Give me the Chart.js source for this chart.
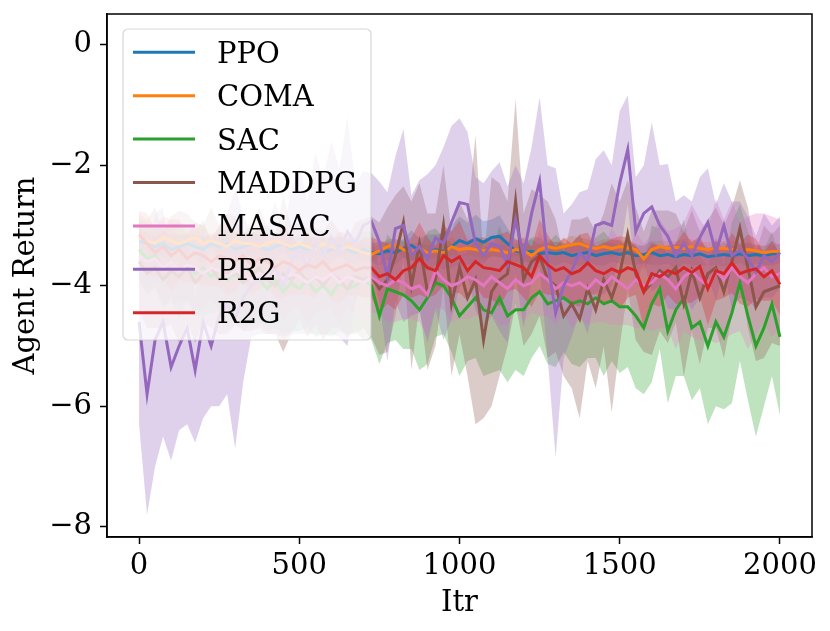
<!DOCTYPE html>
<html>
<head>
<meta charset="utf-8">
<script src="https://cdn.jsdelivr.net/npm/chart.js@4.4.1/dist/chart.umd.min.js"></script>
<style>
  html, body { margin: 0; padding: 0; background: #fff; }
  #wrap { width: 830px; height: 631px; }
</style>
</head>
<body>
<div id="wrap"><canvas id="chart"></canvas></div>
<script>
// mean return per series, one value every 25 iterations (0..2000), rows of 200 its
const ppo = [
  -3.25,-3.3,-3.35,-3.3,-3.4,-3.35,-3.3,-3.35,
  -3.4,-3.3,-3.35,-3.3,-3.4,-3.35,-3.3,-3.35,
  -3.4,-3.35,-3.3,-3.4,-3.35,-3.4,-3.35,-3.45,
  -3.4,-3.35,-3.4,-3.45,-3.4,-3.45,-3.47,-3.42,
  -3.45,-3.38,-3.33,-3.42,-3.45,-3.4,-3.43,-3.35,
  -3.25,-3.3,-3.22,-3.28,-3.2,-3.18,-3.3,-3.42,
  -3.45,-3.43,-3.47,-3.45,-3.47,-3.45,-3.5,-3.47,
  -3.45,-3.5,-3.47,-3.45,-3.48,-3.45,-3.5,-3.48,
  -3.45,-3.5,-3.48,-3.52,-3.48,-3.5,-3.47,-3.52,
  -3.5,-3.48,-3.5,-3.47,-3.5,-3.48,-3.5,-3.47,
  -3.47
];
const coma = [
  -3.2,-3.25,-3.3,-3.2,-3.25,-3.3,-3.25,-3.2,
  -3.3,-3.25,-3.3,-3.35,-3.25,-3.3,-3.3,-3.35,
  -3.3,-3.25,-3.3,-3.35,-3.3,-3.35,-3.4,-3.3,
  -3.35,-3.4,-3.35,-3.4,-3.45,-3.48,-3.42,-3.35,
  -3.32,-3.4,-3.45,-3.38,-3.45,-3.42,-3.45,-3.35,
  -3.4,-3.38,-3.4,-3.42,-3.4,-3.42,-3.45,-3.4,
  -3.42,-3.5,-3.4,-3.35,-3.38,-3.35,-3.32,-3.3,
  -3.35,-3.38,-3.35,-3.38,-3.35,-3.37,-3.4,-3.55,
  -3.4,-3.35,-3.38,-3.36,-3.38,-3.35,-3.38,-3.4,
  -3.37,-3.38,-3.4,-3.42,-3.4,-3.42,-3.45,-3.43,
  -3.43
];
const sac = [
  -3.4,-3.55,-3.5,-3.7,-3.6,-3.75,-3.65,-3.8,
  -3.7,-3.85,-3.75,-3.9,-3.8,-3.95,-3.85,-3.9,
  -4.05,-3.9,-4.1,-3.95,-4.05,-3.9,-4.1,-4.0,
  -4.15,-3.95,-4.05,-4.0,-3.9,-4.0,-4.5,-4.05,
  -4.1,-4.15,-4.25,-4.4,-4.2,-3.95,-4.0,-4.2,
  -4.5,-4.35,-4.2,-4.4,-4.45,-4.2,-4.5,-4.4,
  -4.4,-4.2,-4.1,-4.3,-4.25,-4.2,-4.3,-4.25,
  -4.3,-4.2,-4.3,-4.25,-4.35,-4.35,-4.5,-4.7,
  -4.3,-4.05,-4.75,-4.4,-4.2,-4.7,-4.6,-5.0,
  -4.6,-4.85,-4.45,-3.95,-4.5,-5.0,-4.7,-4.3,
  -4.85
];
const maddpg = [
  -3.6,-3.8,-3.7,-3.9,-3.75,-3.85,-3.7,-3.95,
  -3.8,-3.7,-3.9,-3.8,-3.75,-3.95,-3.85,-3.7,
  -3.9,-4.0,-3.8,-3.9,-3.75,-3.95,-3.85,-4.0,
  -3.8,-3.9,-4.05,-3.85,-3.9,-3.85,-4.05,-3.9,
  -3.5,-2.95,-4.0,-3.3,-4.1,-3.9,-3.0,-4.3,
  -3.7,-4.2,-3.9,-4.9,-4.1,-3.9,-3.8,-2.6,
  -3.9,-3.6,-3.5,-3.9,-4.0,-4.5,-4.3,-4.55,
  -4.05,-4.4,-3.9,-4.2,-3.8,-3.15,-3.8,-4.1,
  -3.95,-3.75,-3.85,-3.7,-4.3,-3.75,-4.2,-3.8,
  -3.7,-4.1,-3.6,-3.05,-3.7,-4.35,-4.1,-4.05,
  -4.0
];
const masac = [
  -3.5,-3.6,-3.55,-3.7,-3.6,-3.75,-3.65,-3.7,
  -3.8,-3.7,-3.75,-3.85,-3.75,-3.8,-3.9,-3.8,
  -3.85,-3.75,-3.9,-3.8,-3.85,-3.95,-3.85,-3.9,
  -3.8,-3.95,-3.85,-3.9,-3.95,-3.85,-3.95,-4.0,
  -3.9,-3.95,-4.05,-4.0,-4.15,-3.75,-3.9,-4.0,
  -3.95,-3.85,-3.9,-4.0,-3.85,-3.95,-4.05,-3.9,
  -4.0,-3.95,-3.8,-3.9,-4.05,-3.95,-4.0,-3.95,
  -4.05,-3.9,-4.0,-3.85,-3.95,-4.05,-3.9,-4.0,
  -3.95,-3.8,-3.9,-4.05,-3.85,-3.75,-3.9,-4.0,
  -3.75,-3.9,-3.7,-3.85,-3.95,-3.8,-3.7,-3.85,
  -3.8
];
const pr2 = [
  -4.6,-5.8,-4.9,-4.6,-5.35,-5.0,-4.7,-5.4,
  -4.6,-5.0,-4.5,-4.3,-4.55,-4.2,-4.0,-3.9,
  -3.9,-3.7,-4.0,-3.6,-3.4,-3.7,-3.3,-3.5,
  -3.2,-3.45,-3.1,-3.3,-3.0,-2.93,-3.27,-3.85,
  -3.05,-3.0,-3.5,-3.35,-3.55,-3.2,-3.3,-2.95,
  -2.62,-2.65,-3.3,-3.5,-3.3,-3.35,-3.65,-2.9,
  -3.5,-2.8,-2.27,-3.6,-4.45,-4.0,-3.75,-3.45,
  -3.6,-3.0,-2.95,-3.0,-2.3,-1.74,-3.1,-2.8,
  -2.69,-3.0,-3.18,-3.5,-3.3,-3.5,-3.2,-2.95,
  -3.45,-3.0,-3.5,-3.4,-3.55,-3.78,-3.5,-3.6,
  -3.45
];
const r2g = [
  -3.15,-3.3,-3.45,-3.35,-3.5,-3.4,-3.55,-3.45,
  -3.5,-3.6,-3.5,-3.55,-3.6,-3.5,-3.65,-3.55,
  -3.6,-3.7,-3.6,-3.65,-3.75,-3.65,-3.7,-3.6,
  -3.75,-3.7,-3.65,-3.75,-3.7,-3.7,-3.85,-3.8,
  -3.9,-3.75,-3.7,-3.55,-3.7,-3.75,-3.5,-3.6,
  -3.52,-3.75,-3.6,-3.7,-3.72,-3.75,-3.6,-3.65,
  -3.7,-3.85,-3.5,-3.65,-3.75,-3.7,-3.8,-3.75,
  -3.62,-3.75,-3.8,-3.72,-3.78,-3.7,-3.75,-4.1,
  -3.8,-3.85,-3.75,-3.8,-3.7,-3.78,-3.68,-4.05,
  -3.75,-3.8,-3.62,-3.8,-3.75,-3.72,-3.85,-3.75,
  -3.98
];

// half width of the shaded band around each mean
const ppoSd = [
  0.15,0.2,0.15,0.2,0.25,0.2,0.15,0.2,
  0.2,0.15,0.2,0.25,0.2,0.15,0.2,0.2,
  0.25,0.2,0.15,0.2,0.2,0.15,0.2,0.25,
  0.2,0.15,0.2,0.2,0.15,0.15,0.2,0.15,
  0.2,0.15,0.25,0.2,0.3,0.25,0.3,0.35,
  0.4,0.35,0.4,0.35,0.3,0.35,0.25,0.2,
  0.15,0.2,0.15,0.15,0.2,0.15,0.15,0.2,
  0.15,0.15,0.2,0.15,0.15,0.2,0.15,0.15,
  0.2,0.15,0.15,0.2,0.15,0.15,0.2,0.15,
  0.15,0.2,0.15,0.15,0.2,0.15,0.15,0.2,
  0.15
];
const comaSd = [
  0.12,0.15,0.1,0.12,0.15,0.1,0.12,0.15,
  0.1,0.12,0.15,0.1,0.12,0.1,0.15,0.12,
  0.1,0.12,0.15,0.1,0.12,0.15,0.1,0.12,
  0.15,0.1,0.12,0.1,0.15,0.12,0.1,0.12,
  0.1,0.12,0.15,0.1,0.12,0.1,0.12,0.15,
  0.1,0.12,0.1,0.15,0.12,0.1,0.12,0.1,
  0.12,0.15,0.1,0.12,0.1,0.12,0.15,0.1,
  0.12,0.1,0.12,0.15,0.1,0.12,0.1,0.2,
  0.12,0.1,0.12,0.1,0.15,0.12,0.1,0.12,
  0.1,0.12,0.15,0.1,0.12,0.1,0.12,0.1,
  0.12
];
const sacSd = [
  0.5,0.6,0.5,0.7,0.6,0.8,0.6,0.7,
  0.8,0.6,0.7,0.8,0.7,0.8,0.8,0.7,
  0.7,0.8,0.7,0.8,0.7,0.8,0.75,0.8,
  0.7,0.8,0.75,0.8,0.8,0.9,0.8,0.9,
  0.8,0.9,0.8,1.0,1.1,0.9,0.8,0.9,
  1.0,0.9,1.0,1.1,1.0,1.2,1.1,1.0,
  1.1,1.0,0.9,1.0,1.1,0.9,1.0,1.1,
  0.9,1.0,1.2,1.0,1.1,1.0,1.2,1.1,
  1.3,1.0,1.2,1.1,1.3,1.2,1.1,1.3,
  1.4,1.2,1.5,1.3,1.4,1.5,1.3,1.2,
  1.3
];
const maddpgSd = [
  0.8,0.9,1.0,0.8,0.9,1.1,0.9,1.0,
  0.8,1.0,0.9,1.0,0.9,0.8,0.9,1.0,
  0.9,0.8,1.3,0.9,0.8,0.9,0.8,0.9,
  0.9,0.8,0.8,0.9,1.0,1.0,1.1,1.2,
  1.0,0.6,1.4,1.0,1.3,1.1,1.0,1.2,
  1.1,1.3,2.4,1.3,1.9,1.6,1.2,1.7,
  1.1,1.2,1.0,1.3,1.1,1.0,1.4,1.65,
  1.2,1.3,1.1,1.9,1.2,0.9,1.1,1.0,
  1.2,1.0,1.1,0.9,1.2,1.0,1.1,0.9,
  1.0,1.1,0.9,0.8,1.0,0.9,1.1,0.9,
  1.0
];
const masacSd = [
  0.5,0.6,0.5,0.6,0.7,0.5,0.6,0.7,
  0.6,0.5,0.7,0.6,0.5,0.6,0.7,0.6,
  0.5,0.6,0.7,0.6,0.5,0.7,0.6,0.5,
  0.6,0.7,0.5,0.6,0.7,0.6,0.5,0.6,
  0.7,0.6,0.5,0.6,0.7,0.6,0.5,0.6,
  0.6,0.7,0.6,0.5,0.6,0.7,0.6,0.5,
  0.6,0.5,0.7,0.6,0.6,0.5,0.7,0.6,
  0.6,0.7,0.6,0.8,0.7,0.6,0.8,0.7,
  0.8,0.9,0.8,1.0,0.9,1.1,1.0,0.9,
  1.2,1.0,1.1,0.9,1.1,1.0,0.9,1.0,
  0.9
];
const pr2Sd = [
  1.7,2.0,2.1,1.9,1.55,1.4,1.6,1.2,
  1.6,1.0,1.5,1.5,2.15,1.4,0.85,0.9,
  0.9,1.1,0.85,1.2,1.4,1.1,1.5,1.3,
  1.6,1.4,1.9,1.0,0.9,0.8,1.0,1.4,
  1.2,1.6,1.0,1.1,1.4,1.2,1.6,1.6,
  1.4,1.2,1.1,1.2,1.2,1.4,1.3,0.9,
  1.2,1.1,1.4,1.6,2.4,1.2,1.1,1.0,
  1.2,1.1,1.2,1.0,1.2,0.9,0.9,0.8,
  1.4,1.0,1.2,0.9,0.8,0.9,1.0,0.9,
  0.8,0.7,0.9,0.8,0.7,0.6,0.7,0.6,
  0.6
];
const r2gSd = [
  0.4,0.5,0.4,0.5,0.6,0.5,0.4,0.5,
  0.5,0.4,0.5,0.6,0.5,0.4,0.5,0.5,
  0.4,0.5,0.6,0.5,0.4,0.5,0.5,0.4,
  0.5,0.6,0.5,0.4,0.5,0.5,0.6,0.5,
  0.5,0.4,0.5,0.6,0.5,0.4,0.5,0.5,
  0.6,0.5,0.4,0.5,0.5,0.6,0.5,0.4,
  0.5,0.5,0.6,0.5,0.4,0.5,0.5,0.6,
  0.5,0.4,0.5,0.5,0.6,0.5,0.4,0.6,
  0.5,0.5,0.4,0.5,0.6,0.5,0.5,0.6,
  0.5,0.4,0.5,0.5,0.6,0.5,0.4,0.5,
  0.5
];

const names = ['PPO', 'COMA', 'SAC', 'MADDPG', 'MASAC', 'PR2', 'R2G'];
const colors = ['#1f77b4', '#ff7f0e', '#2ca02c', '#8c564b', '#e377c2', '#9467bd', '#d62728'];
const means = [ppo, coma, sac, maddpg, masac, pr2, r2g];
const spreads = [ppoSd, comaSd, sacSd, maddpgSd, masacSd, pr2Sd, r2gSd];
const xTicks = [0, 500, 1000, 1500, 2000];
const yTicks = [-8, -6, -4, -2, 0];
const iters = ppo.map((_, i) => i * 25);

const FONT = 'DejaVu Serif';
const FSIZE = 29;

function alpha(hex, a) {
    const n = parseInt(hex.slice(1), 16);
    return `rgba(${n >> 16},${(n >> 8) & 255},${n & 255},${a})`;
}

const datasets = [];
means.forEach((m, k) => {
    // band: upper edge filled down to the lower edge
    datasets.push({
        data: m.map((v, i) => ({ x: iters[i], y: v + spreads[k][i] })),
        fill: '+1', backgroundColor: alpha(colors[k], 0.3),
        borderColor: 'rgba(0,0,0,0)', borderWidth: 0, pointRadius: 0,
        order: 100 - 2 * k, isBand: true
    });
    datasets.push({
        data: m.map((v, i) => ({ x: iters[i], y: v - spreads[k][i] })),
        fill: false, borderColor: 'rgba(0,0,0,0)', borderWidth: 0, pointRadius: 0,
        order: 99 - 2 * k, isBand: true
    });
});
means.forEach((m, k) => {
    datasets.push({
        label: names[k],
        data: m.map((v, i) => ({ x: iters[i], y: v })),
        borderColor: colors[k], borderWidth: 3, pointRadius: 0,
        fill: false, tension: 0, order: 20 - k
    });
});

// frame + matplotlib-like legend sitting inside the axes
const legendBox = {
    id: 'legendBox',
    afterDatasetsDraw(chart) {
        const ctx = chart.ctx;
        const a = chart.chartArea;
        ctx.save();
        ctx.strokeStyle = '#000';
        ctx.lineWidth = 1.5;
        ctx.strokeRect(a.left, a.top, a.right - a.left, a.bottom - a.top);

        const x0 = a.left + 16, y0 = a.top + 15, w = 248, h = 311, r = 5;
        ctx.beginPath();
        ctx.moveTo(x0 + r, y0);
        ctx.arcTo(x0 + w, y0, x0 + w, y0 + h, r);
        ctx.arcTo(x0 + w, y0 + h, x0, y0 + h, r);
        ctx.arcTo(x0, y0 + h, x0, y0, r);
        ctx.arcTo(x0, y0, x0 + w, y0, r);
        ctx.closePath();
        ctx.fillStyle = 'rgba(255,255,255,0.8)';
        ctx.fill();
        ctx.strokeStyle = 'rgba(204,204,204,0.8)';
        ctx.lineWidth = 1.2;
        ctx.stroke();

        const lines = chart.data.datasets.filter(d => !d.isBand);
        ctx.font = FSIZE + 'px "' + FONT + '"';
        ctx.textBaseline = 'alphabetic';
        lines.forEach((d, i) => {
            const y = y0 + 23.3 + i * 43.4;
            ctx.strokeStyle = d.borderColor;
            ctx.lineWidth = 3;
            ctx.beginPath();
            ctx.moveTo(x0 + 10, y);
            ctx.lineTo(x0 + 72, y);
            ctx.stroke();
            ctx.fillStyle = '#000';
            ctx.fillText(d.label, x0 + 94, y + 10.5);
        });
        ctx.restore();
    }
};

const minus = v => (v < 0 ? '\u2212' + Math.abs(v) : String(v));
const font = { family: FONT, size: FSIZE };

new Chart(document.getElementById('chart'), {
    type: 'line',
    data: { datasets: datasets },
    options: {
        responsive: true,
        maintainAspectRatio: false,
        animation: false,
        layout: { padding: { top: 14, right: 18, left: 0, bottom: 0 } },
        plugins: { legend: { display: false }, tooltip: { enabled: false } },
        scales: {
            x: {
                type: 'linear', min: -100, max: 2100,
                afterBuildTicks: s => { s.ticks = xTicks.map(v => ({ value: v })); },
                afterFit: s => { s.height = 94; s.paddingLeft = 0; s.paddingRight = 0; },
                grid: { drawOnChartArea: false, tickLength: 7, tickWidth: 1.5, tickColor: '#000' },
                border: { color: '#000', width: 1.5 },
                ticks: { font: font, color: '#000', padding: 5, maxRotation: 0, callback: v => String(v) },
                title: { display: true, text: 'Itr', font: font, color: '#000', padding: { top: 0, bottom: 10 } }
            },
            y: {
                type: 'linear', min: -8.17, max: 0.51,
                afterBuildTicks: s => { s.ticks = yTicks.map(v => ({ value: v })); },
                afterFit: s => { s.width = 107; s.paddingTop = 0; s.paddingBottom = 0; },
                grid: { drawOnChartArea: false, tickLength: 7, tickWidth: 1.5, tickColor: '#000' },
                border: { color: '#000', width: 1.5 },
                ticks: { font: font, color: '#000', padding: 8, callback: minus },
                title: { display: true, text: 'Agent Return', font: font, color: '#000', padding: { top: 9, bottom: 0 } }
            }
        }
    },
    plugins: [legendBox]
});
</script>
</body>
</html>
